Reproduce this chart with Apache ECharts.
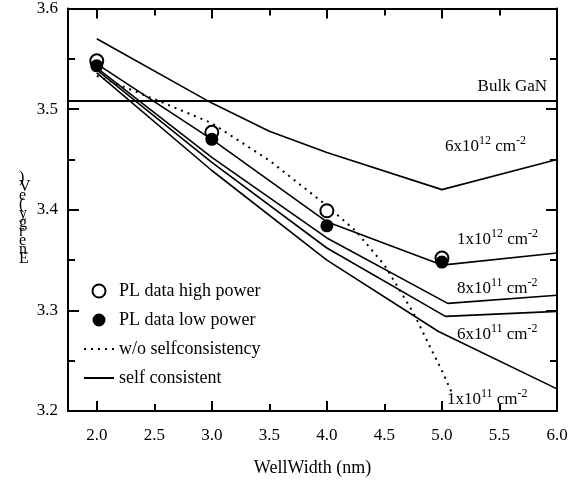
<!DOCTYPE html>
<html>
<head>
<meta charset="utf-8">
<script src="https://cdn.jsdelivr.net/npm/echarts@6/dist/echarts.min.js"></script>
<style>
  html, body { margin: 0; padding: 0; background: #fff; }
  #chart { width: 580px; height: 485px; }
</style>
</head>
<body>
<div id="chart"></div>
<script>
// datos
const wellWidths = [2.0, 3.0, 4.0, 5.0];
const plHighPower = [3.548, 3.477, 3.399, 3.352];
const plLowPower = [3.543, 3.470, 3.384, 3.348];

const noSelfConsX = [2.0, 2.5, 3.0, 3.5, 4.0, 4.25, 4.5, 4.75, 4.9, 5.0, 5.09];
const noSelfConsY = [3.533, 3.510, 3.486, 3.449, 3.404, 3.379, 3.345, 3.298, 3.263, 3.240, 3.217];

const sc6e12X = [2.0, 3.0, 3.5, 4.0, 5.0, 6.0];
const sc6e12Y = [3.570, 3.506, 3.478, 3.457, 3.420, 3.450];
const sc1e12X = [2.0, 3.0, 4.0, 5.0, 6.0];
const sc1e12Y = [3.545, 3.470, 3.388, 3.345, 3.357];
const sc8e11X = [2.0, 3.0, 4.0, 5.05, 6.0];
const sc8e11Y = [3.541, 3.452, 3.372, 3.307, 3.315];
const sc6e11X = [2.0, 3.0, 4.0, 5.03, 6.0];
const sc6e11Y = [3.539, 3.447, 3.362, 3.294, 3.299];
const sc1e11X = [2.0, 3.0, 4.0, 4.97, 6.0];
const sc1e11Y = [3.536, 3.439, 3.350, 3.279, 3.222];

const bulkGaN = 3.508;
const xRange = [1.75, 6.0];
const yRange = [3.2, 3.6];
const xLabels = [2.0, 2.5, 3.0, 3.5, 4.0, 4.5, 5.0, 5.5, 6.0];
const xMajorTicks = [2.0, 3.0, 4.0, 5.0, 6.0];
const xMinorTicks = [2.5, 3.5, 4.5, 5.5];

const FONT = "Liberation Serif";
const zip = (xs, ys) => xs.map((x, i) => [x, ys[i]]);

function solid(data) {
  return {
    name: "self consistent",
    type: "line",
    data: data,
    symbol: "none",
    itemStyle: { color: "#000", opacity: 0 },
    lineStyle: { color: "#000", width: 1.6 },
    z: 3
  };
}

function xAxisDef(pos, ticks, len, withLabels, showLine) {
  return {
    type: "value",
    position: pos,
    min: xRange[0],
    max: xRange[1],
    axisLine: { show: showLine, onZero: false, lineStyle: { color: "#000", width: 2 } },
    axisTick: { inside: true, length: len, customValues: ticks, lineStyle: { color: "#000", width: 2 } },
    axisLabel: withLabels
      ? { customValues: xLabels, formatter: v => v.toFixed(1), color: "#000", fontFamily: FONT, fontSize: 17, margin: 16 }
      : { show: false },
    splitLine: { show: false }
  };
}

function yAxisDef(pos, withLabels) {
  return {
    type: "value",
    position: pos,
    min: yRange[0],
    max: yRange[1],
    interval: 0.1,
    axisLine: { show: true, onZero: false, lineStyle: { color: "#000", width: 2 } },
    axisTick: { inside: true, length: 11, lineStyle: { color: "#000", width: 2 } },
    minorTick: { show: true, splitNumber: 2, length: 7, lineStyle: { color: "#000", width: 2 } },
    axisLabel: withLabels
      ? { formatter: v => v.toFixed(1), color: "#000", fontFamily: FONT, fontSize: 17, margin: 10 }
      : { show: false },
    splitLine: { show: false },
    minorSplitLine: { show: false }
  };
}

const richStyle = {
  n: { fontFamily: FONT, fontSize: 17, lineHeight: 20, verticalAlign: "bottom", color: "#000" },
  s: { fontFamily: FONT, fontSize: 12, lineHeight: 20, verticalAlign: "top", color: "#000" }
};
function densityLabel(x, y, mant, exp) {
  return {
    type: "text",
    left: x,
    top: y - 10,
    style: { text: "{n|" + mant + "x10}{s|" + exp + "}{n| cm}{s|-2}", rich: richStyle }
  };
}

let options = {
  animation: false,
  grid: { left: 68, right: 23, top: 7, bottom: 74 },
  xAxis: [
    Object.assign(xAxisDef("bottom", xMajorTicks, 10, true, true), {
      name: "WellWidth (nm)",
      nameLocation: "middle",
      nameGap: 48,
      nameTextStyle: { color: "#000", fontFamily: FONT, fontSize: 18 }
    }),
    xAxisDef("bottom", xMinorTicks, 7, false, false),
    xAxisDef("top", xMajorTicks, 10, false, true),
    xAxisDef("top", xMinorTicks, 7, false, false)
  ],
  yAxis: [yAxisDef("left", true), yAxisDef("right", false)],
  legend: {
    orient: "vertical",
    left: 78,
    top: 277,
    itemWidth: 30,
    itemHeight: 13,
    itemGap: 11,
    data: ["PL data high power", "PL data low power", "w/o selfconsistency", "self consistent"],
    textStyle: { color: "#000", fontFamily: FONT, fontSize: 18 }
  },
  graphic: [
    {
      type: "text",
      left: 19,
      top: 170,
      style: {
        text: ")\nV\ne\n(\ny\ng\nr\ne\nn\nE",
        fontFamily: FONT,
        fontSize: 16,
        lineHeight: 9,
        fill: "#000"
      }
    },
    {
      type: "text",
      right: 33,
      top: 78,
      style: { text: "Bulk GaN", fontFamily: FONT, fontSize: 17, fill: "#000" }
    },
    densityLabel(445, 145, "6", "12"),
    densityLabel(457, 238, "1", "12"),
    densityLabel(457, 287, "8", "11"),
    densityLabel(457, 333, "6", "11"),
    densityLabel(447, 398, "1", "11")
  ],
  series: [
    {
      name: "Bulk GaN",
      type: "line",
      data: [[xRange[0], bulkGaN], [xRange[1], bulkGaN]],
      symbol: "none",
      itemStyle: { color: "#000", opacity: 0 },
      lineStyle: { color: "#000", width: 2 }
    },
    {
      name: "w/o selfconsistency",
      type: "line",
      data: zip(noSelfConsX, noSelfConsY),
      symbol: "none",
      itemStyle: { color: "#000", opacity: 0 },
      lineStyle: { color: "#000", width: 2, type: [2, 5] },
      z: 3
    },
    solid(zip(sc6e12X, sc6e12Y)),
    solid(zip(sc1e12X, sc1e12Y)),
    solid(zip(sc8e11X, sc8e11Y)),
    solid(zip(sc6e11X, sc6e11Y)),
    solid(zip(sc1e11X, sc1e11Y)),
    {
      name: "PL data high power",
      type: "scatter",
      data: zip(wellWidths, plHighPower),
      symbol: "circle",
      symbolSize: 13,
      itemStyle: { color: "#fff", borderColor: "#000", borderWidth: 2, opacity: 1 },
      z: 5
    },
    {
      name: "PL data low power",
      type: "scatter",
      data: zip(wellWidths, plLowPower),
      symbol: "circle",
      symbolSize: 13,
      itemStyle: { color: "#000", opacity: 1 },
      z: 6
    }
  ]
};

let chart = echarts.init(document.getElementById("chart"));
chart.setOption(options);
</script>
</body>
</html>
